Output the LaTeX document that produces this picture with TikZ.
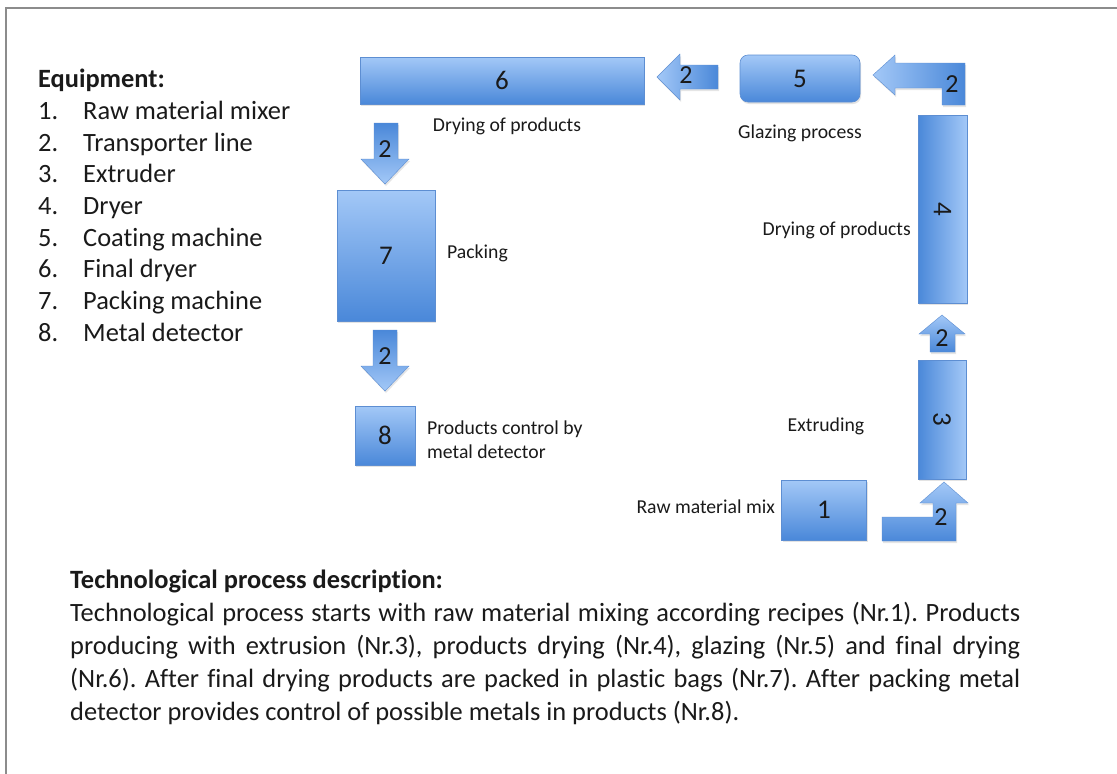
\documentclass[tikz,border=0pt]{standalone}
\usepackage{fontspec}
\usepackage{graphicx}
\setmainfont[Ligatures=NoCommon]{Carlito}
\usetikzlibrary{shadows}
\definecolor{lb}{HTML}{A3C8F7}
\definecolor{db}{HTML}{4A88D9}
\definecolor{bd}{HTML}{5D8ED2}
\definecolor{txt}{HTML}{1A1A1A}
\tikzset{
  box/.style={draw=bd, line width=0.6pt, inner sep=0pt, text=txt,
    font=\fontsize{27}{27}\selectfont,
    drop shadow={opacity=0.22, shadow xshift=1pt, shadow yshift=-2pt}},
  hbox/.style={box, top color=lb, bottom color=db},
  vbox/.style={box, left color=db, right color=lb},
  blockarrow/.style={draw=bd, line width=0.4pt,
    drop shadow={opacity=0.2, shadow xshift=1pt, shadow yshift=-2pt}},
  num/.style={text=txt, font=\fontsize{26}{26}\selectfont, inner sep=0pt},
  lbl/.style={text=txt, font=\fontsize{19.7}{24}\selectfont, inner sep=0pt, align=left},
}
\newcommand{\itm}[2]{\makebox[45pt][l]{#1}#2}
\begin{document}
\begin{tikzpicture}[x=1pt,y=-1pt]
\useasboundingbox (0,0) rectangle (1117,774);
\fill[white] (0,0) rectangle (1117,774);
% frame
\draw[line width=2pt, color=black!45] (6,774) -- (6,8) -- (1117,8);

% equipment list
\node[anchor=north west, inner sep=0pt, text=txt, align=left,
      font=\fontsize{26.4}{31.7}\selectfont] (equip) at (38,69)
 {\textbf{Equipment:}\\
  \itm{1.}{Raw material mixer}\\
  \itm{2.}{Transporter line}\\
  \itm{3.}{Extruder}\\
  \itm{4.}{Dryer}\\
  \itm{5.}{Coating machine}\\
  \itm{6.}{Final dryer}\\
  \itm{7.}{Packing machine}\\
  \itm{8.}{Metal detector}};

% boxes
\node[hbox, minimum width=284pt, minimum height=47pt] (b6) at (502,80.5) {6};
\node[hbox, rounded corners=8pt, minimum width=120pt, minimum height=47pt] (b5) at (800,78.5) {5};
\node[vbox, minimum width=49pt, minimum height=188pt] (b4) at (942.5,209) {\rotatebox{-90}{4}};
\node[vbox, minimum width=48pt, minimum height=119pt] (b3) at (942,419.5) {\rotatebox{-90}{3}};
\node[hbox, minimum width=85pt, minimum height=60pt] (b1) at (824,510) {1};
\node[hbox, minimum width=98pt, minimum height=131pt] (b7) at (386,255.5) {7};
\node[hbox, minimum width=60pt, minimum height=59pt] (b8) at (385,435.5) {8};

% block arrows
% 5 -> 6 (left)
\shade[blockarrow, left color=lb, right color=db]
  (657,77) -- (680,54) -- (680,65) -- (718,65) -- (718,89) -- (680,89) -- (680,100) -- cycle;
% 4 -> 5 (bent)
\shade[blockarrow, left color=lb, right color=db]
  (873,75) -- (895,55) -- (895,63) -- (965,63) -- (965,105) -- (942,105)
  -- (942,88) -- (895,88) -- (895,95) -- cycle;
% 3 -> 4 (up)
\shade[blockarrow, top color=lb, bottom color=db]
  (942,315) -- (965,334) -- (955,334) -- (955,352) -- (930,352) -- (930,334) -- (919,334) -- cycle;
% 1 -> 3 (bent)
\shade[blockarrow, top color=lb, bottom color=db]
  (882,517) -- (933,517) -- (933,503) -- (920,503) -- (944,482) -- (968,503)
  -- (956,503) -- (956,541) -- (882,541) -- cycle;
% 6 -> 7 (down)
\shade[blockarrow, top color=db, bottom color=lb]
  (374,123) -- (398,123) -- (398,159) -- (409,159) -- (385,184) -- (361,159) -- (374,159) -- cycle;
% 7 -> 8 (down)
\shade[blockarrow, top color=db, bottom color=lb]
  (373,330) -- (397,330) -- (397,366) -- (409,366) -- (385,391) -- (361,366) -- (373,366) -- cycle;

% arrow numbers
\node[num] (a56) at (686,75) {2};
\node[num] (a45) at (952,84) {2};
\node[num] (a34) at (942,338) {2};
\node[num] (a13) at (941,517) {2};
\node[num] (a67) at (385,149) {2};
\node[num] (a78) at (385,356) {2};

% labels
\node[lbl] (l6) at (507,126) {Drying of products};
\node[lbl] (l5) at (800,133) {Glazing process};
\node[lbl, anchor=east] (l4) at (911,230) {Drying of products};
\node[lbl, anchor=west] (l7) at (447,253) {Packing};
\node[lbl, anchor=west] (l8) at (427,440) {Products control by\\metal detector};
\node[lbl] (l3) at (826,426) {Extruding};
\node[lbl, anchor=east] (l1) at (775,507) {Raw material mix};

% description
\node[anchor=north west, inner sep=0pt, text=txt] (desc) at (70,570)
 {\parbox{950pt}{\fontsize{26.4}{33}\selectfont\frenchspacing
  \textbf{Technological process description:}\\
  Technological process starts with raw material mixing according recipes (Nr.1). Products\linebreak
  producing with extrusion (Nr.3), products drying (Nr.4), glazing (Nr.5) and final drying\linebreak
  (Nr.6). After final drying products are packed in plastic bags (Nr.7). After packing metal\linebreak
  detector provides control of possible metals in products (Nr.8).}};
\end{tikzpicture}
\end{document}
